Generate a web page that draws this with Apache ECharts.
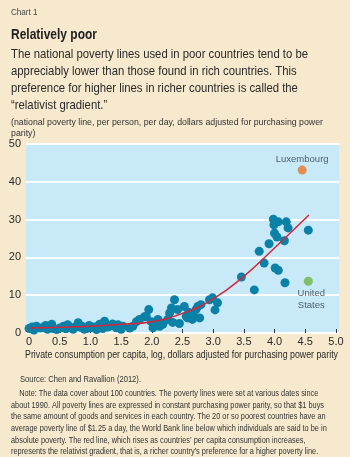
<!DOCTYPE html>
<html>
<head>
<meta charset="utf-8">
<script src="https://cdn.jsdelivr.net/npm/echarts@6/dist/echarts.min.js"></script>
<style>
  html, body { margin: 0; padding: 0; background: #f6e9cd; }
  #chart { width: 350px; height: 457px; }
</style>
</head>
<body>
<div id="chart"></div>
<script>
// x = log private consumption per capita, y = national poverty line ($/day)
const countries = [
    [0.0, 1.2], [0.05, 1.6], [0.08, 0.8], [0.12, 1.8], [0.18, 1.3], [0.23, 1.4], [0.27, 2.0], [0.3, 1.0],
    [0.37, 2.3], [0.39, 1.2], [0.45, 0.9], [0.5, 1.3], [0.56, 1.8], [0.6, 1.1], [0.63, 2.2], [0.67, 1.4],
    [0.72, 1.0], [0.75, 1.6], [0.8, 2.7], [0.84, 1.5], [0.86, 1.8], [0.9, 1.0], [0.94, 1.2], [0.98, 2.0],
    [1.02, 1.4], [1.07, 1.6], [1.1, 0.9], [1.15, 2.3], [1.2, 1.2], [1.23, 3.1], [1.28, 1.6], [1.31, 1.8],
    [1.36, 2.4], [1.42, 1.4], [1.45, 2.2], [1.5, 1.0], [1.53, 1.8],
    [1.64, 1.3], [1.69, 1.8], [1.75, 3.0], [1.8, 3.6], [1.88, 4.3], [1.91, 4.4], [1.95, 6.2], [1.99, 3.0],
    [2.02, 1.4], [2.06, 2.0], [2.1, 3.6], [2.13, 1.8], [2.18, 2.3], [2.26, 3.6], [2.29, 5.3], [2.32, 6.6],
    [2.34, 2.8], [2.37, 8.8], [2.42, 6.2], [2.45, 2.5], [2.53, 7.0], [2.56, 4.4], [2.58, 4.0], [2.6, 5.5],
    [2.66, 3.6], [2.69, 4.2], [2.72, 6.2], [2.75, 7.0], [2.78, 4.0], [2.8, 7.5], [2.94, 8.8], [2.99, 9.3],
    [3.03, 6.1], [3.07, 8.0],
    [3.46, 14.8], [3.67, 11.4], [3.75, 21.6], [3.83, 18.5], [3.91, 23.6], [3.98, 30.1], [3.99, 28.6],
    [4.0, 26.4], [4.01, 17.2], [4.04, 25.4], [4.06, 29.4], [4.06, 16.6], [4.16, 24.4], [4.17, 13.3],
    [4.19, 29.4], [4.22, 27.8], [4.55, 27.2]
]
const luxembourg = [4.45, 43.1]
const unitedStates = [4.55, 13.7]
// relativist gradient (red line)
const gradient = [
    [0.0, 1.3], [0.5, 1.5], [1.0, 1.8], [1.5, 2.3], [2.0, 3.0], [2.5, 5.2],
    [3.0, 9.0], [3.5, 15.0], [4.0, 22.5], [4.56, 31.2]
]
const xTicks = [0, 0.5, 1.0, 1.5, 2.0, 2.5, 3.0, 3.5, 4.0, 4.5, 5.0]

const descLines = [
    'The national poverty lines used in poor countries tend to be',
    'appreciably lower than those found in rich countries. This',
    'preference for higher lines in richer countries is called the',
    '\u201crelativist gradient.\u201d'
]
const unitLines = [
    '(national poverty line, per person, per day, dollars adjusted for purchasing power',
    'parity)'
]
const xTitle = 'Private consumption per capita, log, dollars adjusted for purchasing power parity'
const sourceLine = 'Source: Chen and Ravallion (2012).'
const noteLines = [
    '    Note: The data cover about 100 countries. The poverty lines were set at various dates since',
    'about 1990. All poverty lines are expressed in constant purchasing power parity, so that $1 buys',
    'the same amount of goods and services in each country. The 20 or so poorest countries have an',
    'average poverty line of $1.25 a day, the World Bank line below which individuals are said to be in',
    'absolute poverty. The red line, which rises as countries\u2019 per capita consumption increases,',
    'represents the relativist gradient, that is, a richer country\u2019s preference for a higher poverty line.'
]

const FONT = '"Liberation Sans", Arial, sans-serif'

// squeeze text horizontally so it looks like the narrow face of the original
const measureCtx = document.createElement('canvas').getContext('2d')
function squeeze(text, size, bold, target) {
    measureCtx.font = (bold ? 'bold ' : '') + size + 'px ' + FONT
    return target / measureCtx.measureText(text).width
}

function textEl(text, x, y, size, opts = {}) {
    return {
        type: 'text',
        x: x,
        y: y,
        scaleX: opts.scaleX || 1,
        style: {
            text: text,
            fontFamily: FONT,
            fontSize: size,
            fontWeight: opts.bold ? 'bold' : 'normal',
            fill: opts.color || '#2b2b2b',
            verticalAlign: 'top',
            lineHeight: opts.lineHeight || size * 1.2
        }
    }
}

const chart = echarts.init(document.getElementById('chart'))

chart.setOption({
    backgroundColor: '#f6e9cd',
    animation: false,
    graphic: [
        textEl('Chart 1', 11, 7, 9, { color: '#444', scaleX: 0.9 }),
        textEl('Relatively poor', 11, 26, 15, { bold: true, color: '#1e1e1e', scaleX: squeeze('Relatively poor', 15, true, 86) }),
        textEl(descLines.join('\n'), 11, 46, 13, { lineHeight: 17, color: '#2a2a2a', scaleX: squeeze(descLines[0], 13, false, 297) }),
        textEl(unitLines.join('\n'), 11, 117, 9.5, { lineHeight: 11, color: '#333', scaleX: squeeze(unitLines[0], 9.5, false, 312) }),
        textEl(xTitle, 25, 349, 10.5, { color: '#2a2a2a', scaleX: squeeze(xTitle, 10.5, false, 313) }),
        textEl(sourceLine, 20, 374, 9, { color: '#333', scaleX: squeeze(sourceLine, 9, false, 121) }),
        textEl(noteLines.join('\n'), 11, 388, 9, { lineHeight: 11.6, color: '#333', scaleX: squeeze(noteLines[1], 9, false, 313) })
    ],
    grid: {
        left: 26,
        right: 11,
        top: 144,
        bottom: 124,
        show: true,
        backgroundColor: '#c8e9f8',
        borderWidth: 0
    },
    xAxis: {
        type: 'value',
        min: -0.05,
        max: 5.05,
        axisLine: { show: false },
        splitLine: { show: false },
        axisTick: {
            show: true,
            inside: true,
            length: 4,
            customValues: xTicks,
            lineStyle: { color: '#333', width: 1 }
        },
        axisLabel: {
            customValues: xTicks,
            margin: 3,
            color: '#2a2a2a',
            fontFamily: FONT,
            fontSize: 11,
            formatter: v => (v === 0 ? '0' : v.toFixed(1))
        }
    },
    yAxis: {
        type: 'value',
        min: 0,
        max: 50,
        interval: 10,
        axisLine: { show: false },
        axisTick: { show: false },
        splitLine: { lineStyle: { color: '#ffffff', width: 2 } },
        axisLabel: {
            margin: 5,
            color: '#2a2a2a',
            fontFamily: FONT,
            fontSize: 11
        }
    },
    series: [
        {
            type: 'scatter',
            data: countries,
            symbolSize: 9,
            itemStyle: { color: '#0c81a7', opacity: 1 },
            z: 2
        },
        {
            type: 'scatter',
            data: [luxembourg],
            symbolSize: 9,
            itemStyle: { color: '#e8752b' },
            label: {
                show: true,
                position: 'top',
                distance: 1,
                formatter: 'Luxembourg',
                color: '#2a3a4a',
                fontFamily: FONT,
                fontSize: 9.5
            },
            z: 2
        },
        {
            type: 'scatter',
            data: [unitedStates],
            symbolSize: 9,
            itemStyle: { color: '#6cb545' },
            label: {
                show: true,
                position: 'bottom',
                distance: 2,
                offset: [3, 0],
                formatter: 'United\nStates',
                lineHeight: 12,
                color: '#2a3a4a',
                fontFamily: FONT,
                fontSize: 9.5
            },
            z: 2
        },
        {
            type: 'line',
            data: gradient,
            smooth: true,
            showSymbol: false,
            lineStyle: { color: '#d3263b', width: 1.5 },
            z: 3
        }
    ]
})
</script>
</body>
</html>
